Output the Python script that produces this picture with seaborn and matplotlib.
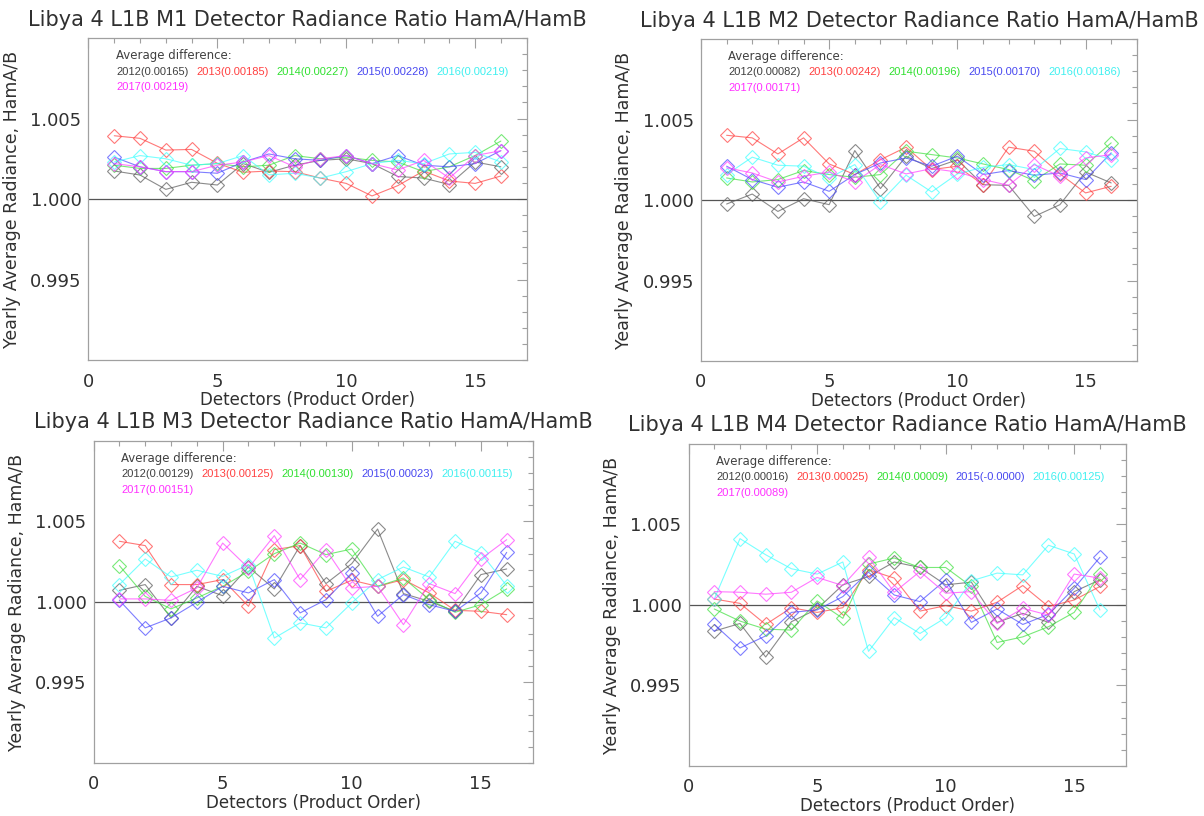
import matplotlib
matplotlib.use("Agg")
import matplotlib.pyplot as plt
import pandas as pd
import seaborn as sns
from matplotlib.ticker import FixedLocator, MultipleLocator

sns.set_theme(style="white")
plt.rcParams["font.family"] = ["DejaVu Sans"]

# Data
DETECTORS = list(range(1, 17))
YEARS = [2012, 2013, 2014, 2015, 2016, 2017]
LINE_COLORS = ["#5a5a5a", "#ff4040", "#40e040", "#4848ff", "#40ffff", "#ff40ff"]
TEXT_COLORS = ["#404040", "#ff4040", "#30e030", "#4848f0", "#40f0f0", "#ff30ff"]
BANDS = ["M1", "M2", "M3", "M4"]

M1_2012 = [1.00174, 1.00149, 1.00060, 1.00104, 1.00087, 1.00220, 1.00166, 1.00210,
           1.00240, 1.00250, 1.00220, 1.00140, 1.00130, 1.00090, 1.00230, 1.00200]
M1_2013 = [1.00393, 1.00377, 1.00304, 1.00308, 1.00222, 1.00166, 1.00174, 1.00170,
           1.00130, 1.00097, 1.00019, 1.00083, 1.00174, 1.00112, 1.00097, 1.00143]
M1_2014 = [1.00210, 1.00190, 1.00190, 1.00210, 1.00220, 1.00200, 1.00210, 1.00270,
           1.00250, 1.00260, 1.00240, 1.00230, 1.00170, 1.00200, 1.00270, 1.00360]
M1_2015 = [1.00260, 1.00200, 1.00170, 1.00170, 1.00160, 1.00230, 1.00280, 1.00250,
           1.00240, 1.00270, 1.00220, 1.00270, 1.00210, 1.00200, 1.00220, 1.00300]
M1_2016 = [1.00230, 1.00270, 1.00250, 1.00210, 1.00220, 1.00270, 1.00150, 1.00160,
           1.00130, 1.00170, 1.00220, 1.00240, 1.00220, 1.00280, 1.00290, 1.00230]
M1_2017 = [1.00220, 1.00200, 1.00170, 1.00170, 1.00210, 1.00230, 1.00270, 1.00200,
           1.00250, 1.00270, 1.00220, 1.00180, 1.00240, 1.00130, 1.00270, 1.00300]

M2_2012 = [0.99975, 1.00037, 0.99929, 1.00008, 0.99971, 1.00307, 1.00071, 1.00272,
           1.00195, 1.00250, 1.00095, 1.00091, 0.99898, 0.99971, 1.00174, 1.00106]
M2_2013 = [1.00402, 1.00386, 1.00286, 1.00386, 1.00224, 1.00158, 1.00250, 1.00328,
           1.00189, 1.00210, 1.00095, 1.00328, 1.00303, 1.00162, 1.00044, 1.00085]
M2_2014 = [1.00137, 1.00112, 1.00127, 1.00183, 1.00158, 1.00141, 1.00158, 1.00303,
           1.00282, 1.00261, 1.00224, 1.00189, 1.00120, 1.00224, 1.00216, 1.00355]
M2_2015 = [1.00210, 1.00127, 1.00079, 1.00112, 1.00054, 1.00158, 1.00230, 1.00261,
           1.00210, 1.00272, 1.00158, 1.00183, 1.00154, 1.00168, 1.00127, 1.00293]
M2_2016 = [1.00158, 1.00266, 1.00216, 1.00210, 1.00137, 1.00220, 0.99988, 1.00154,
           1.00050, 1.00162, 1.00203, 1.00220, 1.00189, 1.00320, 1.00299, 1.00250]
M2_2017 = [1.00200, 1.00168, 1.00112, 1.00147, 1.00174, 1.00112, 1.00220, 1.00162,
           1.00195, 1.00174, 1.00127, 1.00091, 1.00220, 1.00147, 1.00261, 1.00282]

M3_2012 = [1.00072, 1.00108, 0.99901, 1.00097, 1.00039, 1.00217, 1.00081, 1.00350,
           1.00114, 1.00238, 1.00453, 1.00052, 1.00004, 0.99942, 1.00170, 1.00205]
M3_2013 = [1.00377, 1.00350, 1.00108, 1.00108, 1.00139, 0.99973, 1.00325, 1.00350,
           1.00066, 1.00135, 1.00097, 1.00139, 1.00056, 0.99948, 0.99942, 0.99921]
M3_2014 = [1.00226, 1.00035, 0.99957, 1.00025, 1.00097, 1.00190, 1.00300, 1.00366,
           1.00294, 1.00329, 1.00097, 1.00149, 1.00014, 0.99936, 0.99983, 1.00081]
M3_2015 = [1.00010, 0.99839, 0.99901, 0.99998, 1.00097, 1.00056, 1.00139, 0.99932,
           1.00014, 1.00180, 0.99911, 1.00046, 0.99983, 0.99942, 1.00056, 1.00308]
M3_2016 = [1.00108, 1.00267, 1.00155, 1.00197, 1.00159, 1.00232, 0.99776, 0.99870,
           0.99839, 0.99994, 1.00139, 1.00217, 1.00155, 1.00377, 1.00304, 1.00101]
M3_2017 = [1.00019, 1.00019, 1.00010, 1.00087, 1.00366, 1.00211, 1.00412, 1.00139,
           1.00325, 1.00087, 1.00097, 0.99859, 1.00114, 1.00052, 1.00267, 1.00387]

M4_2012 = [0.99838, 0.99885, 0.99677, 0.99896, 0.99975, 1.00125, 1.00177, 1.00267,
           1.00233, 1.00125, 1.00142, 0.99892, 0.99948, 0.99892, 1.00083, 1.00156]
M4_2013 = [1.00037, 1.00010, 0.99879, 0.99983, 0.99954, 0.99983, 1.00219, 1.00167,
           0.99962, 0.99996, 0.99962, 1.00017, 1.00121, 0.99990, 1.00031, 1.00115]
M4_2014 = [0.99975, 0.99900, 0.99850, 0.99844, 1.00025, 0.99917, 1.00254, 1.00292,
           1.00233, 1.00233, 1.00115, 0.99767, 0.99802, 0.99865, 0.99954, 1.00192]
M4_2015 = [0.99879, 0.99733, 0.99808, 0.99954, 0.99969, 1.00052, 1.00204, 1.00062,
           1.00021, 1.00156, 0.99892, 0.99975, 0.99879, 0.99942, 1.00104, 1.00296]
M4_2016 = [1.00037, 1.00412, 1.00312, 1.00225, 1.00192, 1.00267, 0.99712, 0.99921,
           0.99823, 0.99921, 1.00150, 1.00198, 1.00187, 1.00371, 1.00317, 0.99969]
M4_2017 = [1.00083, 1.00079, 1.00067, 1.00079, 1.00171, 1.00121, 1.00296, 1.00079,
           1.00208, 1.00073, 1.00083, 0.99885, 0.99979, 0.99937, 1.00192, 1.00167]

AVG_M1 = ["0.00165", "0.00185", "0.00227", "0.00228", "0.00219", "0.00219"]
AVG_M2 = ["0.00082", "0.00242", "0.00196", "0.00170", "0.00186", "0.00171"]
AVG_M3 = ["0.00129", "0.00125", "0.00130", "0.00023", "0.00115", "0.00151"]
AVG_M4 = ["0.00016", "0.00025", "0.00009", "-0.0000", "0.00125", "0.00089"]

SERIES = {
    "M1": [M1_2012, M1_2013, M1_2014, M1_2015, M1_2016, M1_2017],
    "M2": [M2_2012, M2_2013, M2_2014, M2_2015, M2_2016, M2_2017],
    "M3": [M3_2012, M3_2013, M3_2014, M3_2015, M3_2016, M3_2017],
    "M4": [M4_2012, M4_2013, M4_2014, M4_2015, M4_2016, M4_2017],
}
AVERAGES = {"M1": AVG_M1, "M2": AVG_M2, "M3": AVG_M3, "M4": AVG_M4}

# axes rectangles in figure fraction [left, bottom, width, height]
POSITIONS = {
    "M1": [0.0735, 0.5588, 0.3639, 0.3946],
    "M2": [0.5822, 0.5576, 0.3620, 0.3946],
    "M3": [0.0777, 0.0650, 0.3646, 0.3946],
    "M4": [0.5719, 0.0613, 0.3630, 0.3946],
}

FRAME = "#a0a0a0"
LABEL = "#303030"


def draw_panel(ax, band):
    rows = []
    for year, values in zip(YEARS, SERIES[band]):
        for det, val in zip(DETECTORS, values):
            rows.append({"year": year, "detector": det, "ratio": val})
    df = pd.DataFrame(rows)

    ax.axhline(1.0, color="#555555", lw=0.9, zorder=1)
    for year, color in zip(YEARS, LINE_COLORS):
        sub = df[df["year"] == year]
        sns.lineplot(data=sub, x="detector", y="ratio", color=color, lw=0.8,
                     alpha=0.7, marker="D", markersize=7.5,
                     markerfacecolor="none", markeredgecolor=color,
                     markeredgewidth=0.8, estimator=None, legend=False, ax=ax)

    ax.set_xlim(0, 17)
    ax.set_ylim(0.990, 1.010)
    ax.xaxis.set_major_locator(FixedLocator([0, 5, 10, 15]))
    ax.xaxis.set_minor_locator(MultipleLocator(1))
    ax.yaxis.set_major_locator(FixedLocator([0.995, 1.000, 1.005]))
    ax.yaxis.set_minor_locator(MultipleLocator(0.001))
    ax.set_yticklabels(["0.995", "1.000", "1.005"])
    ax.tick_params(which="both", direction="in", top=True, right=True,
                   color=FRAME, width=0.8, labelcolor=LABEL, labelsize=13)
    ax.tick_params(which="major", length=7)
    ax.tick_params(which="minor", length=3.5)
    ax.tick_params(axis="x", which="major", pad=9)
    ax.tick_params(axis="y", which="major", pad=5)
    for sp in ax.spines.values():
        sp.set_color(FRAME)
        sp.set_linewidth(0.9)

    ax.set_title(f"Libya 4 L1B {band} Detector Radiance Ratio HamA/HamB",
                 fontsize=15, color=LABEL, pad=9)
    ax.set_xlabel("Detectors (Product Order)", fontsize=12, color=LABEL)
    ax.set_ylabel("Yearly Average Radiance, HamA/B", fontsize=12.5, color=LABEL)
    ax.xaxis.set_label_coords(0.5, -0.095)
    ax.yaxis.set_label_coords(-0.155, 0.5)

    # "Average difference" text block
    ax.text(0.063, 0.947, "Average difference:", transform=ax.transAxes,
            ha="left", va="center", fontsize=8.5, color="#404040")
    prev = None
    for i, (year, avg, tc) in enumerate(zip(YEARS, AVERAGES[band], TEXT_COLORS)):
        label = f"{year}({avg})"
        if i == 0:
            prev = ax.text(0.063, 0.896, label, transform=ax.transAxes,
                           ha="left", va="center", fontsize=8, color=tc,
                           family="Liberation Sans")
        elif i == 5:
            ax.text(0.063, 0.848, label, transform=ax.transAxes,
                    ha="left", va="center", fontsize=8, color=tc,
                    family="Liberation Sans")
        else:
            prev = ax.annotate(label, xy=(1, 0.5), xycoords=prev,
                               xytext=(5.5, 0), textcoords="offset points",
                               ha="left", va="center", fontsize=8, color=tc,
                               family="Liberation Sans")


fig = plt.figure(figsize=(12.04, 8.16), dpi=100)
fig.patch.set_facecolor("white")
for band in BANDS:
    ax = fig.add_axes(POSITIONS[band])
    draw_panel(ax, band)

fig.savefig("out.png", dpi=100, facecolor="white")
